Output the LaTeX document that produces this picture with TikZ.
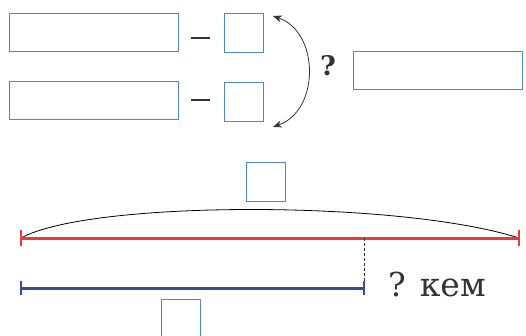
\documentclass[tikz,border=0pt]{standalone}
\usepackage{fontspec}
\setmainfont{DejaVu Serif}
\usetikzlibrary{arrows.meta}
\definecolor{boxblue}{HTML}{4F86D6}
\definecolor{segred}{HTML}{EC3A3A}
\definecolor{segblue}{HTML}{3B4B9C}
\definecolor{ink}{HTML}{333333}
\tikzset{
  answerbox/.style={draw=boxblue, line width=0.9pt, inner sep=0pt, anchor=north west},
  wide/.style={answerbox, minimum width=169pt, minimum height=38pt},
  sq/.style={answerbox, minimum width=39pt, minimum height=39pt},
  minus/.style={ink, line width=2.6pt},
}
\begin{document}
\begin{tikzpicture}[x=1pt,y=-1pt]
\useasboundingbox (0,0) rectangle (526,335);
% top part
\node[wide] (b1) at (9,13) {};
\node[sq] (s1) at (224,13) {};
\node[wide] (b2) at (9,81) {};
\node[sq] (s2) at (224,82) {};
\node[wide] (r) at (353,51) {};
\draw[minus] (191,38) -- (210,38);
\draw[minus] (191,100) -- (210,100);
\draw[ink, line width=0.8pt, {Stealth[length=9pt,width=7pt]}-{Stealth[length=9pt,width=7pt]}]
  ([xshift=9pt,yshift=-3pt]s1.north east) .. controls +(47,16) and +(47,-16) .. ([xshift=9pt,yshift=-5pt]s2.south east);
\node[ink, font=\bfseries\fontsize{27}{27}\selectfont] (q1) at (328,66) {?};
% bottom part
\node[sq] (top) at (246,162) {};
\coordinate (A) at (21,238);
\coordinate (B) at (519,238);
\coordinate (M) at (364,238);
\coordinate (C) at (21,288);
\coordinate (D) at (364,288);
\draw[black, line width=0.8pt] (A) .. controls (90,200) and (400,200) .. (B);
\draw[segred, line width=3pt] (A) -- (B);
\draw[segred, line width=2.4pt] ([yshift=-8pt]A) -- ([yshift=8pt]A);
\draw[segred, line width=2.4pt] ([yshift=-8pt]B) -- ([yshift=8pt]B);
\draw[ink, dash pattern=on 3pt off 2pt, line width=0.7pt] (M) -- (D);
\draw[segblue, line width=3pt] (C) -- (D);
\draw[segblue, line width=2.4pt] ([yshift=-7pt]C) -- ([yshift=7pt]C);
\draw[segblue, line width=2.4pt] ([yshift=-7pt]D) -- ([yshift=7pt]D);
\node[sq] (bot) at (161,299) {};
\node[ink, anchor=west, font=\fontsize{33}{33}\selectfont, inner sep=0pt] (kem) at (388,284) {? кем};
\end{tikzpicture}
\end{document}
